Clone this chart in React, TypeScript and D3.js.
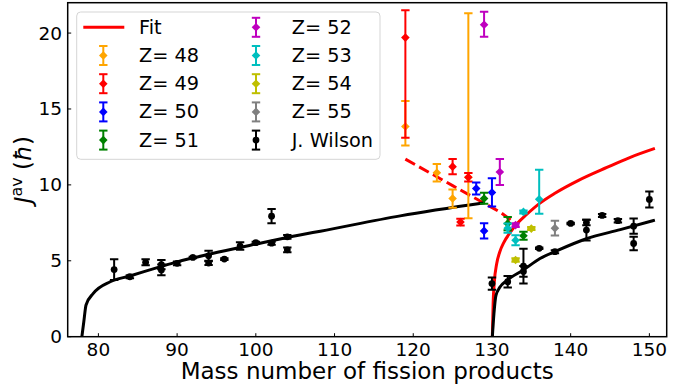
import React from 'react';
import * as d3 from 'd3';

const W = 691;
const H = 389;

const xTicks = [80, 90, 100, 110, 120, 130, 140, 150];
const yTicks = [0, 5, 10, 15, 20];

// [A, J, errDown, errUp]
const z48 = [[119, 13.85, 1.25, 1.67], [123, 10.8, 0.58, 0.58], [125, 9.1, 0.6, 0.6], [127, 10.5, 2.7, 10.8]];
const z49 = [[119, 19.7, 6.6, 1.8], [125, 11.2, 0.5, 0.5], [126, 7.55, 0.22, 0.22], [127, 10.5, 0.28, 0.28]];
const z50 = [[128, 9.76, 0.4, 0.4], [129, 6.97, 0.5, 0.5], [130, 9.5, 0.93, 0.93]];
const z51 = [[129, 9.1, 0.35, 0.38], [132, 7.45, 0.44, 0.44], [134, 6.65, 0.27, 0.27]];
const z52 = [[129, 20.55, 0.8, 0.85], [131, 10.85, 0.85, 0.85], [133, 7.35, 0.12, 0.12]];
const z53 = [[132, 7.15, 0.3, 0.3], [133, 6.35, 0.33, 0.33], [134, 8.22, 0.1, 0.1], [136, 9.05, 0.95, 1.95]];
const z54 = [[133, 5.05, 0.12, 0.12], [135, 7.12, 0.1, 0.1]];
const z55 = [[138, 7.15, 0.48, 0.48]];
const wilson = [
  [82, 4.42, 0.68, 0.68], [84, 3.95, 0.1, 0.1], [86, 4.9, 0.2, 0.2], [88, 4.75, 0.3, 0.3], [88, 4.4, 0.35, 0.35],
  [90, 4.83, 0.12, 0.12], [92, 5.22, 0.05, 0.05], [94, 5.33, 0.33, 0.33], [94, 4.85, 0.12, 0.12], [96, 5.11, 0.06, 0.06],
  [98, 5.97, 0.25, 0.25], [100, 6.19, 0.07, 0.07], [102, 7.94, 0.47, 0.47], [102, 6.16, 0.1, 0.1], [104, 6.58, 0.12, 0.12],
  [104, 5.72, 0.15, 0.15], [130, 3.5, 0.4, 0.4], [132, 3.62, 0.38, 0.38], [134, 4.65, 1.15, 1.15], [134, 4.3, 0.35, 0.35],
  [136, 5.82, 0.05, 0.05], [138, 5.6, 0.1, 0.1], [140, 7.46, 0.05, 0.05], [142, 7.52, 0.18, 0.18], [142, 7.02, 0.68, 0.68],
  [144, 7.99, 0.1, 0.1], [146, 7.64, 0.12, 0.12], [148, 7.28, 0.5, 0.5], [148, 6.14, 0.45, 0.45], [150, 9.04, 0.53, 0.53],
];

// fit curves [A, J]
const fitBlackLeft = [[77.9, 0], [78.15, 1.0], [78.43, 2.09], [79.35, 2.85], [81.5, 3.62], [84, 4.0], [87.8, 4.6], [90, 4.93],
  [94.2, 5.45], [100, 6.1], [105.6, 6.7], [108.2, 6.95], [118.35, 7.96], [129.1, 8.82]];
const fitBlackRight = [[130.05, 0], [130.25, 1.5], [130.5, 2.7], [131.0, 3.25], [131.9, 3.7], [134.0, 4.4], [136.1, 5.15],
  [138.2, 5.65], [142.0, 6.45], [146.3, 7.05], [150.7, 7.68]];
const fitRedRight = [[130.05, 0], [130.15, 2.2], [130.3, 3.6], [130.6, 4.8], [131.0, 5.6], [131.5, 6.2], [132.3, 6.85],
  [133.2, 7.45], [134.4, 8.05], [136.1, 8.8], [138, 9.45], [141, 10.3], [144.6, 11.15], [147.5, 11.8], [150.7, 12.4]];
const fitRedDashed = [[119, 11.7], [125, 9.95], [131, 8.22], [133, 7.45]];

const seriesList = [
  { label: 'Z= 48', color: '#FFA500', data: z48, marker: 'D' },
  { label: 'Z= 49', color: '#FF0000', data: z49, marker: 'D' },
  { label: 'Z= 50', color: '#0000FF', data: z50, marker: 'D' },
  { label: 'Z= 51', color: '#008000', data: z51, marker: 'D' },
  { label: 'Z= 52', color: '#BF00BF', data: z52, marker: 'D' },
  { label: 'Z= 53', color: '#00BFBF', data: z53, marker: 'D' },
  { label: 'Z= 54', color: '#BFBF00', data: z54, marker: 'D' },
  { label: 'Z= 55', color: '#808080', data: z55, marker: 'D' },
  { label: 'J. Wilson', color: '#000000', data: wilson, marker: 'o' },
];

const L = 67.7, R = 666.7, T = 2.7, B = 336.7;
const FONT = 'DejaVu Sans, sans-serif';

function Marker({ x, y, type, color }: any) {
  if (type === 'o') return <circle cx={x} cy={y} r={3.4} fill={color} />;
  const h = 4.3;
  return <path d={`M${x},${y - h}L${x + h},${y}L${x},${y + h}L${x - h},${y}Z`} fill={color} />;
}

function ErrBar({ x, y1, y2, y, color, type }: any) {
  const c = 4.2;
  return (
    <g stroke={color} strokeWidth={2} fill="none">
      <line x1={x} x2={x} y1={y1} y2={y2} />
      <line x1={x - c} x2={x + c} y1={y1} y2={y1} />
      <line x1={x - c} x2={x + c} y1={y2} y2={y2} />
      <g stroke="none"><Marker x={x} y={y} type={type} color={color} /></g>
    </g>
  );
}

export default function App() {
  const x = d3.scaleLinear().domain([76.1, 152.2]).range([L, R]);
  const y = d3.scaleLinear().domain([0, 22]).range([B, T]);
  const line = d3.line<number[]>().x(d => x(d[0])).y(d => y(d[1])).curve(d3.curveMonotoneX);
  const straight = d3.line<number[]>().x(d => x(d[0])).y(d => y(d[1]));

  const rowY = (i: number) => 27.3 + i * 28.2;
  const col1 = 103.3, col2 = 256;

  return (
    <svg width={W} height={H} style={{ position: 'absolute', left: 0, top: 0, background: '#fff' }} fontFamily={FONT}>
      <defs>
        <clipPath id="plot"><rect x={L} y={T} width={R - L} height={B - T} /></clipPath>
      </defs>
      <g clipPath="url(#plot)">
        <path d={line(fitRedRight) || ''} stroke="#FF0000" strokeWidth={3} fill="none" />
        <path d={straight(fitRedDashed) || ''} stroke="#FF0000" strokeWidth={3} fill="none" strokeDasharray="11,4.8" />
        <path d={line(fitBlackLeft) || ''} stroke="#000" strokeWidth={3} fill="none" />
        <path d={line(fitBlackRight) || ''} stroke="#000" strokeWidth={3} fill="none" />
        {seriesList.map((s, si) => (
          <g key={si}>
            {s.data.map((d, i) => (
              <ErrBar key={i} x={x(d[0])} y={y(d[1])} y1={y(d[1] + d[3])} y2={y(d[1] - d[2])} color={s.color} type={s.marker} />
            ))}
          </g>
        ))}
      </g>
      {/* legend */}
      <rect x={76.7} y={12} width={303.3} height={147.3} rx={4} fill="#fff" fillOpacity={0.8} stroke="#d5d5d5" strokeWidth={1} />
      <line x1={83.3} x2={124.3} y1={rowY(0)} y2={rowY(0)} stroke="#FF0000" strokeWidth={3} />
      <text x={139} y={rowY(0)} dominantBaseline="central" fontSize={19.3}>Fit</text>
      {seriesList.map((s, i) => {
        const idx = i + 1;
        const col = idx < 5 ? 0 : 1;
        const row = idx < 5 ? idx : idx - 5;
        const cx = col === 0 ? col1 : col2;
        const cy = rowY(row);
        return (
          <g key={i}>
            <ErrBar x={cx} y={cy} y1={cy - 9.5} y2={cy + 9.5} color={s.color} type={s.marker} />
            <text x={cx + 35.7} y={cy} dominantBaseline="central" fontSize={19.3}>{s.label}</text>
          </g>
        );
      })}
      {/* frame */}
      <rect x={L} y={T} width={R - L} height={B - T} fill="none" stroke="#000" strokeWidth={1.5} />
      {xTicks.map(t => (
        <g key={t}>
          <line x1={x(t)} x2={x(t)} y1={B} y2={B - 3.5} stroke="#000" strokeWidth={1} />
          <text x={x(t)} y={355.5} textAnchor="middle" fontSize={18.5}>{t}</text>
        </g>
      ))}
      {yTicks.map(t => (
        <g key={t}>
          <line x1={L} x2={L + 3.5} y1={y(t)} y2={y(t)} stroke="#000" strokeWidth={1} />
          <text x={62} y={y(t)} textAnchor="end" dominantBaseline="central" fontSize={18.5}>{t}</text>
        </g>
      ))}
      <text x={(L + R) / 2} y={379} textAnchor="middle" fontSize={23}>Mass number of fission products</text>
      <text transform={`translate(31,${(T + B) / 2}) rotate(-90)`} textAnchor="middle" fontSize={23}>
        <tspan fontStyle="italic">J</tspan>
        <tspan fontSize={16} dy={-9}>av</tspan>
        <tspan dy={9}> (</tspan>
        <tspan fontStyle="italic">ħ</tspan>
        <tspan>)</tspan>
      </text>
    </svg>
  );
}
